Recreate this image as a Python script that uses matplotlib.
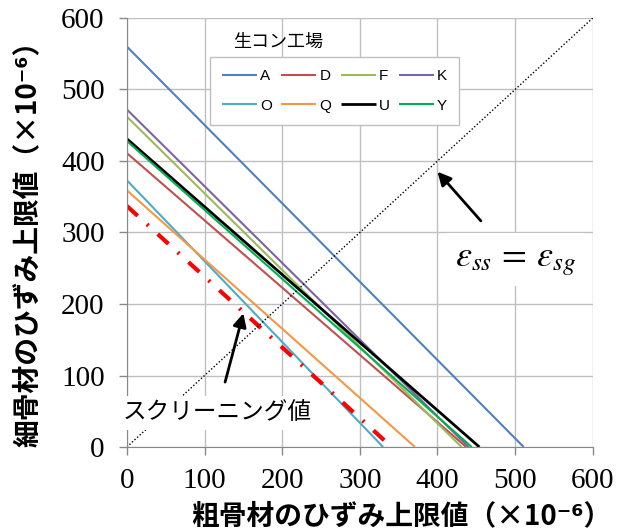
import matplotlib
matplotlib.use('Agg')
import matplotlib.pyplot as plt

plt.rcParams['font.family'] = ['Noto Sans CJK JP', 'DejaVu Sans']
plt.rcParams['mathtext.fontset'] = 'stix'

# 生コン工場ごとの上限値（縦軸切片・横軸切片）
plants = ['A', 'D', 'F', 'K', 'O', 'Q', 'U', 'Y']
fine_max = [560, 411, 462, 472, 373, 359, 431, 428]
coarse_max = [511, 437, 431, 440, 330, 371, 454, 444]
colors = ['#4F81BD', '#C0504D', '#9BBB59', '#8064A2',
          '#4BACC6', '#F79646', '#000000', '#00B050']

# スクリーニング値
screen_fine = 337
screen_coarse = 341

ticks = [0, 100, 200, 300, 400, 500, 600]

fig = plt.figure(figsize=(6.22, 5.29), dpi=100)
ax = fig.add_axes([0.204, 0.155, 0.749, 0.811])

lines = {}
for name, y0, x0, c in zip(plants, fine_max, coarse_max, colors):
    lw = 2.0 if name == 'U' else 1.5
    ln, = ax.plot([0, x0], [y0, 0], color=c, lw=lw, label=name,
                  solid_capstyle='butt')
    lines[name] = ln

ax.plot([0, screen_coarse], [screen_fine, 0], color='red', lw=3,
        dashes=(3.5, 3, 0.5, 3), solid_capstyle='butt')
ax.plot([0, 600], [0, 600], color='black', lw=1, linestyle=(0, (1, 1.5)))

ax.set_xlim(0, 600)
ax.set_ylim(0, 600)
ax.set_xticks(ticks)
ax.set_yticks(ticks)
ax.grid(True, color='#BFBFBF', lw=1)
ax.set_axisbelow(True)
for s in ['top', 'right']:
    ax.spines[s].set_visible(False)
for s in ['left', 'bottom']:
    ax.spines[s].set_color('#888888')
ax.tick_params(direction='out', length=6, color='#888888', width=1)
ax.tick_params(axis='y', pad=10)
ax.tick_params(axis='x', pad=9)
for lab in ax.get_xticklabels() + ax.get_yticklabels():
    lab.set_fontfamily('Liberation Serif')
    lab.set_fontsize(21)

ax.set_xlabel('粗骨材のひずみ上限値（×10⁻⁶）', fontsize=20, fontweight='bold',
              labelpad=6, x=0.59)
ax.set_ylabel('細骨材のひずみ上限値（×10⁻⁶）', fontsize=20, fontweight='bold',
              labelpad=14, y=0.49)

order = ['A', 'O', 'D', 'Q', 'F', 'U', 'K', 'Y']
leg = ax.legend([lines[n] for n in order], order, ncol=4,
                loc='upper left', bbox_to_anchor=(0.178, 0.909),
                borderaxespad=0,
                prop={'family': 'Liberation Sans', 'size': 11},
                frameon=True, fancybox=False, framealpha=1,
                edgecolor='#BFBFBF', handlelength=2.3, handletextpad=0.2,
                columnspacing=0.6, borderpad=0.8, labelspacing=1.0)
leg.get_frame().set_linewidth(1)
ax.text(0.324, 0.944, '生コン工場', transform=ax.transAxes, fontsize=13,
        ha='center', va='center')

ax.annotate(r'$\varepsilon_{ss}\,=\,\varepsilon_{sg}$', xy=(400, 385),
            xytext=(500, 262), fontsize=26, ha='center', va='center',
            bbox=dict(facecolor='white', edgecolor='none', pad=6),
            arrowprops=dict(arrowstyle='-|>', color='black', lw=2,
                            mutation_scale=20, shrinkA=12, shrinkB=0))
ax.annotate('スクリーニング値', xy=(150, 187), xytext=(116, 48),
            fontsize=17, ha='center', va='center',
            bbox=dict(facecolor='white', edgecolor='none', pad=4),
            arrowprops=dict(arrowstyle='-|>', color='black', lw=2,
                            mutation_scale=20, shrinkA=10, shrinkB=0))

fig.savefig('out.png', dpi=100)
